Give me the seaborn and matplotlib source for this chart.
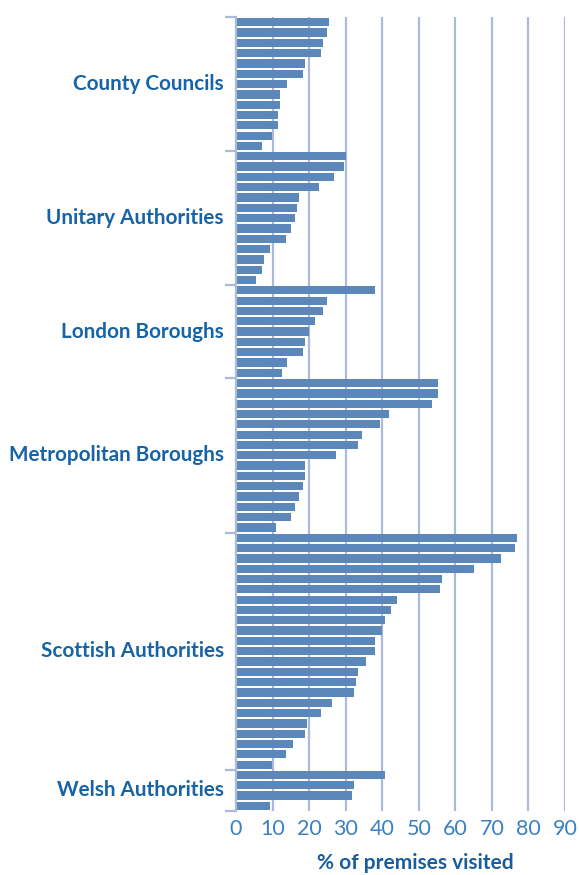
import numpy as np
import pandas as pd
import matplotlib
matplotlib.use("Agg")
import matplotlib.pyplot as plt
import seaborn as sns

# % of premises visited, bars listed top to bottom within each group
groups = ["County Councils", "Unitary Authorities", "London Boroughs",
          "Metropolitan Boroughs", "Scottish Authorities", "Welsh Authorities"]
county = [25.4, 24.9, 23.8, 23.2, 18.9, 18.3, 13.9, 12.0, 12.0, 11.5, 11.5, 9.8, 7.1]
unitary = [30.0, 29.5, 26.8, 22.7, 17.2, 16.7, 16.1, 15.0, 13.7, 9.3, 7.7, 7.1, 5.5]
london = [38.0, 24.9, 23.8, 21.6, 20.0, 18.9, 18.3, 13.9, 12.6]
metro = [55.3, 55.3, 53.6, 41.9, 39.4, 34.5, 33.4, 27.4, 18.9, 18.9, 18.3,
         17.2, 16.1, 15.0, 10.9]
scottish = [76.9, 76.3, 72.5, 65.1, 56.4, 55.8, 44.0, 42.4, 40.8, 39.9, 38.0,
            38.0, 35.6, 33.4, 32.8, 32.3, 26.3, 23.3, 19.4, 18.9, 15.6, 13.7, 9.8]
welsh = [40.8, 32.3, 31.7, 9.3]
xticks = [0, 10, 20, 30, 40, 50, 60, 70, 80, 90]

series = [county, unitary, london, metro, scottish, welsh]
rows = []
for g, vals in zip(groups, series):
    for v in vals:
        rows.append({"group": g, "value": v})
df = pd.DataFrame(rows)
df["slot"] = [str(i) for i in range(len(df))]

sns.set_theme(style="white")
plt.rcParams["font.family"] = ["Lato", "DejaVu Sans"]

fig = plt.figure(figsize=(5.79, 8.75), dpi=100)
ax = fig.add_axes([0.4076, 0.0731, 0.5682, 0.9074])

bar_col = "#5c87bb"
grid_col = "#a9badb"
label_col = "#1663a6"

for x in xticks[1:]:
    ax.axvline(x, color=grid_col, lw=1.6, zorder=0)

sns.barplot(data=df, x="value", y="slot", orient="h", color=bar_col,
            width=0.8, saturation=1, linewidth=0, ax=ax, zorder=2)

n = len(df)
ax.set_xlim(0, 90)
ax.set_ylim(n - 0.5, -0.5)

# group boundaries and centred labels
bounds = np.cumsum([0] + [len(s) for s in series]) - 0.5
ax.set_yticks(bounds)
ax.set_yticklabels([])
ax.tick_params(axis="y", length=8, width=1.6, color=grid_col, left=True)
for i, g in enumerate(groups):
    mid = (bounds[i] + bounds[i + 1]) / 2
    ax.text(-3.3, mid, g, ha="right", va="center", fontsize=14.9,
            fontweight="bold", color=label_col, transform=ax.transData,
            clip_on=False)

ax.set_xticks(xticks)
ax.set_xticklabels([str(t) for t in xticks], fontsize=15.5, color="#3a80c2")
ax.tick_params(axis="x", length=0, pad=6)
ax.set_ylabel("")
ax.set_xlabel("% of premises visited", fontsize=15, fontweight="bold",
              color="#1a5d9e")
ax.xaxis.set_label_coords(0.545, -0.053)

for s in ["top", "right", "bottom"]:
    ax.spines[s].set_visible(False)
ax.spines["left"].set_color(grid_col)
ax.spines["left"].set_linewidth(1.6)

fig.savefig("out.png", dpi=100)
